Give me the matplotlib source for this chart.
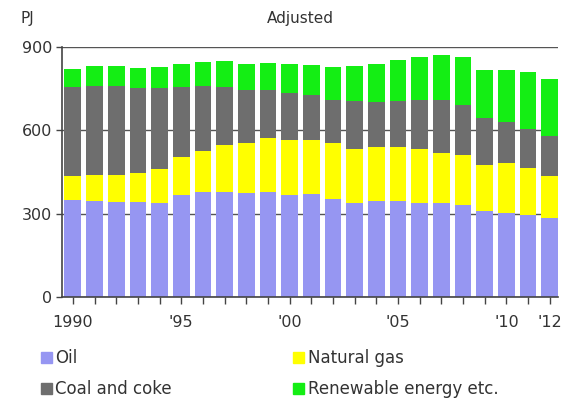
import matplotlib
matplotlib.use('Agg')
import matplotlib.pyplot as plt
from matplotlib.patches import Patch

years = list(range(1990, 2013))

# PJ
oil = [348, 347, 343, 341, 340, 367, 377, 378, 374, 377, 366, 372, 354,
       340, 344, 344, 340, 340, 332, 308, 304, 294, 284]
natural_gas = [86, 93, 97, 104, 121, 137, 150, 170, 180, 197, 198, 194, 200,
               194, 196, 196, 192, 180, 180, 168, 180, 170, 152]
coal_coke = [322, 318, 318, 309, 293, 252, 231, 208, 192, 170, 172, 162, 156,
             170, 162, 166, 178, 188, 178, 168, 146, 142, 142]
renewable = [64, 72, 74, 69, 75, 84, 87, 92, 94, 100, 104, 108, 118,
             126, 138, 146, 154, 164, 174, 172, 186, 204, 208]

tick_years = [1990, 1995, 2000, 2005, 2010, 2012]
tick_labels = ["1990", "'95", "'00", "'05", "'10", "'12"]

c_oil = "#9696F2"
c_gas = "#FFFF00"
c_coal = "#6E6E6E"
c_ren = "#14EE14"
text_col = "#333333"

fig = plt.figure(figsize=(5.61, 4), dpi=100)
ax = fig.add_axes([0.1105, 0.2575, 0.885, 0.625])

w = 0.77
b1 = [o + g for o, g in zip(oil, natural_gas)]
b2 = [x + c for x, c in zip(b1, coal_coke)]
ax.bar(years, oil, width=w, color=c_oil, zorder=2)
ax.bar(years, natural_gas, width=w, bottom=oil, color=c_gas, zorder=2)
ax.bar(years, coal_coke, width=w, bottom=b1, color=c_coal, zorder=2)
ax.bar(years, renewable, width=w, bottom=b2, color=c_ren, zorder=2)

ax.set_xlim(1989.5, 2012.4)
ax.set_ylim(0, 900)
ax.set_yticks([0, 300, 600, 900])
ax.set_yticklabels(["0", "300", "600", "900"])
ax.yaxis.grid(True, color="#555555", linewidth=1, zorder=1)
ax.set_axisbelow(True)

ax.set_xticks(years, minor=True)
ax.set_xticks(tick_years)
ax.set_xticklabels(tick_labels)
ax.tick_params(axis="x", which="both", direction="out", length=5, width=1,
               color="#444444", labelsize=11.5, labelcolor=text_col, pad=8)
ax.tick_params(axis="y", length=4, width=1, color="#444444",
               labelsize=11.5, labelcolor=text_col, pad=3)

for s in ["top", "right"]:
    ax.spines[s].set_visible(False)
for s in ["left", "bottom"]:
    ax.spines[s].set_color("#444444")
    ax.spines[s].set_linewidth(1.2)

fig.text(20 / 561, 1 - 18 / 400, "PJ", fontsize=11, color=text_col, va="center")
fig.text(300 / 561, 1 - 18 / 400, "Adjusted", fontsize=11, color=text_col,
         va="center", ha="center")

handles = [Patch(color=c_oil, label="Oil"),
           Patch(color=c_coal, label="Coal and coke"),
           Patch(color=c_gas, label="Natural gas"),
           Patch(color=c_ren, label="Renewable energy etc.")]
fig.legend(handles=handles, ncol=2, frameon=False, loc="upper left",
           bbox_to_anchor=(41 / 561, 1 - 349 / 400), fontsize=12,
           handlelength=0.65, handleheight=0.65, handletextpad=0.2,
           columnspacing=7.3, labelspacing=0.8, labelcolor=text_col,
           borderaxespad=0, borderpad=0)

plt.savefig("out.png", dpi=100)
plt.close()
